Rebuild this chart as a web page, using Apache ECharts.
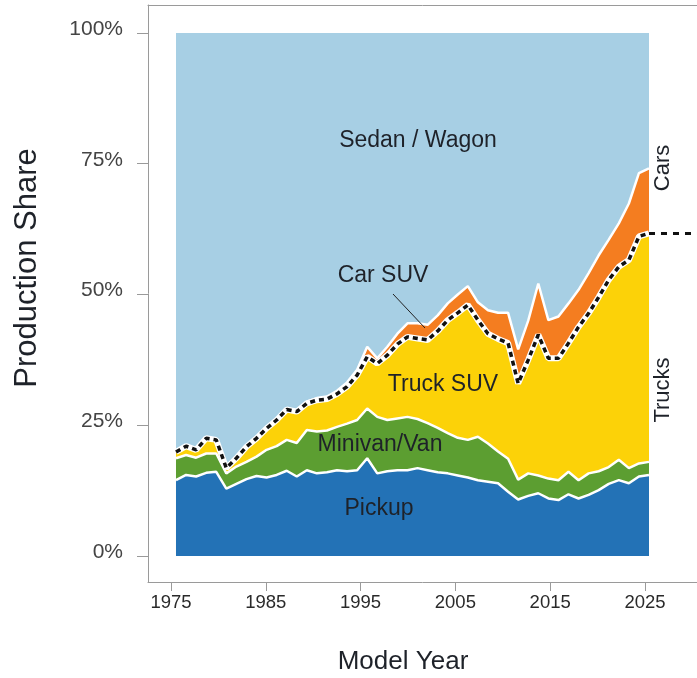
<!DOCTYPE html>
<html>
<head>
<meta charset="utf-8">
<style>
  html, body { margin: 0; padding: 0; background: #fff; }
  #chart { width: 697px; height: 678px; }
</style>
<script src="https://cdn.jsdelivr.net/npm/echarts@6/dist/echarts.min.js"></script>
</head>
<body>
<div id="chart"></div>
<script>
// model years
const years = [1975,1976,1977,1978,1979,1980,1981,1982,1983,1984,
  1985,1986,1987,1988,1989,1990,1991,1992,1993,1994,
  1995,1996,1997,1998,1999,2000,2001,2002,2003,2004,
  2005,2006,2007,2008,2009,2010,2011,2012,2013,2014,
  2015,2016,2017,2018,2019,2020,2021,2022];

// production share (%) by vehicle type
const pickup = [14.5,15.5,15.2,15.9,16.1,12.9,13.8,14.7,15.3,15.0,
  15.5,16.3,15.2,16.4,15.8,16.0,16.4,16.2,16.4,18.7,
  15.8,16.2,16.4,16.4,16.8,16.4,16.0,15.8,15.4,15.0,
  14.5,14.2,13.9,12.3,10.8,11.5,12.0,11.0,10.7,11.8,
  11.0,11.7,12.6,13.8,14.5,13.9,15.2,15.5];
const minivan = [4.2,3.8,3.6,3.7,3.5,2.9,3.3,3.3,3.7,5.3,
  5.5,5.9,6.4,7.7,8.0,8.0,8.3,9.1,9.6,9.5,
  10.8,9.8,9.9,10.2,9.4,9.0,8.5,7.7,7.2,7.2,
  8.3,7.3,6.1,6.3,3.8,4.3,3.4,3.8,3.8,4.3,
  3.5,4.1,3.6,3.2,3.9,2.9,2.5,2.5];
const truckSuv = [1.2,1.7,1.5,2.9,2.6,1.0,1.6,2.9,3.5,4.1,
  5.0,5.8,6.0,5.1,6.0,6.0,6.3,7.1,8.6,9.9,
  10.2,12.4,14.2,15.3,15.4,15.9,18.5,21.6,23.9,25.8,
  22.3,21.0,21.5,22.1,18.4,21.7,26.9,23.0,23.3,24.6,
  29.3,30.6,33.3,35.8,36.9,39.8,43.4,43.7];
const carSuv = [0.1,0.1,0.1,0.1,0.1,0.1,0.1,0.1,0.1,0.2,
  0.2,0.2,0.3,0.3,0.4,0.5,0.6,0.8,1.0,1.9,
  1.0,1.6,2.0,2.6,2.9,2.9,3.0,3.2,3.5,3.6,
  3.4,4.5,5.0,5.8,6.5,7.5,9.8,7.3,8.0,7.6,
  7.1,7.7,8.0,7.7,8.3,10.8,12.1,12.4];
const sedan = [80.0,78.9,79.6,77.4,77.7,83.1,81.2,79.0,77.4,75.4,
  73.8,71.8,72.1,70.5,69.8,69.5,68.4,66.8,64.4,60.0,
  62.2,60.0,57.5,55.5,55.5,55.8,54.0,51.7,50.0,48.4,
  51.5,53.0,53.5,53.5,60.5,55.0,47.9,54.9,54.2,51.7,
  49.1,45.9,42.5,39.5,36.4,32.6,26.8,25.9];

const yearTicks = [1975,1985,1995,2005,2015,2025];
const shareTicks = [0,25,50,75,100];

const chart = echarts.init(document.getElementById('chart'));
const FONT = 'Liberation Sans, Arial, sans-serif';

// running totals, bottom to top: pickup, minivan, truck SUV, car SUV, sedan
const levels = [];
let run = years.map(() => 0);
[pickup, minivan, truckSuv, carSuv, sedan].forEach(arr => {
  run = run.map((v, i) => +(v + arr[i]).toFixed(2));
  levels.push(run);
});
function pairs(arr){ return years.map((y, i) => [y, arr[i]]); }
const truckTop = levels[2];
const lastYear = years[years.length - 1], lastTruck = truckTop[truckTop.length - 1];

const DATA_MIN = 1972.218, DATA_MAX = 2026.77;

function area(name, lvl, color){
  return { name, type: 'line', xAxisIndex: 1, data: pairs(lvl), symbol: 'none',
    lineStyle: { width: 0 }, areaStyle: { color, opacity: 1, origin: 'auto' }, z: 2 };
}
function edge(lvl, width){
  return { type: 'line', xAxisIndex: 1, data: pairs(lvl), symbol: 'none',
    lineStyle: { color: '#fff', width }, z: 3 };
}
function label(text, x, y, size, rot){
  return { type: 'text', x, y, rotation: rot || 0, z: 10,
    style: { text, font: size + 'px ' + FONT, fill: '#1e2229', align: 'center', verticalAlign: 'middle' } };
}

const option = {
  animation: false,
  backgroundColor: '#fff',
  grid: { left: 148, right: 0, top: 5, bottom: 96 },
  xAxis: [
    { type: 'value', min: 1972.574, max: 2030.49, position: 'bottom',
      axisLine: { show: true, onZero: false, lineStyle: { color: '#9a9a9a' } },
      axisTick: { show: true, length: 9, lineStyle: { color: '#9a9a9a' }, customValues: yearTicks },
      axisLabel: { color: '#2a2a2a', fontSize: 18.5, fontFamily: FONT, margin: 11, customValues: yearTicks,
        formatter: v => String(v) },
      splitLine: { show: false } },
    { type: 'value', min: DATA_MIN, max: DATA_MAX, show: false },
    { type: 'value', min: 1972.574, max: 2030.49, position: 'top',
      axisLine: { show: true, onZero: false, lineStyle: { color: '#9a9a9a' } },
      axisTick: { show: false }, axisLabel: { show: false }, splitLine: { show: false } }
  ],
  yAxis: {
    type: 'value', min: -4.97, max: 105.35,
    axisLine: { show: true, onZero: false, lineStyle: { color: '#9a9a9a' } },
    axisTick: { show: true, length: 11, lineStyle: { color: '#9a9a9a' }, customValues: shareTicks },
    axisLabel: { color: '#444', fontSize: 21, fontFamily: FONT, margin: 25, verticalAlign: 'bottom', lineHeight: 8,
      formatter: '{value}%', customValues: shareTicks },
    splitLine: { show: false }
  },
  series: [
    area('Sedan / Wagon', levels[4], '#a7cfe4'),
    area('Car SUV', levels[3], '#f47d20'),
    area('Truck SUV', levels[2], '#fcd208'),
    area('Minivan/Van', levels[1], '#5c9e31'),
    area('Pickup', levels[0], '#2372b6'),
    edge(levels[0], 2.5),
    edge(levels[1], 2.5),
    edge(levels[3], 2.5),
    edge(levels[2], 6),
    { type: 'line', xAxisIndex: 1, data: pairs(truckTop), symbol: 'none', z: 4,
      lineStyle: { color: '#111', width: 3.5, type: [5, 4] },
      markLine: { silent: true, symbol: 'none', label: { show: false },
        lineStyle: { color: '#111', width: 3, type: [6, 6] },
        data: [[{ coord: [lastYear, lastTruck] }, { coord: [DATA_MAX, lastTruck] }]] } }
  ],
  graphic: [
    label('Production Share', 27, 268, 31, Math.PI / 2),
    label('Model Year', 403, 662, 26),
    label('Sedan / Wagon', 418, 141, 23),
    label('Car SUV', 383, 276, 23),
    { type: 'line', z: 10, shape: { x1: 393, y1: 294, x2: 425, y2: 328 }, style: { stroke: '#222', lineWidth: 1 } },
    label('Truck SUV', 443, 385, 23),
    label('Minivan/Van', 380, 445, 23),
    label('Pickup', 379, 509, 23),
    label('Cars', 663, 168, 22, Math.PI / 2),
    label('Trucks', 663, 390, 22, Math.PI / 2)
  ]
};
chart.setOption(option);
</script>
</body>
</html>
